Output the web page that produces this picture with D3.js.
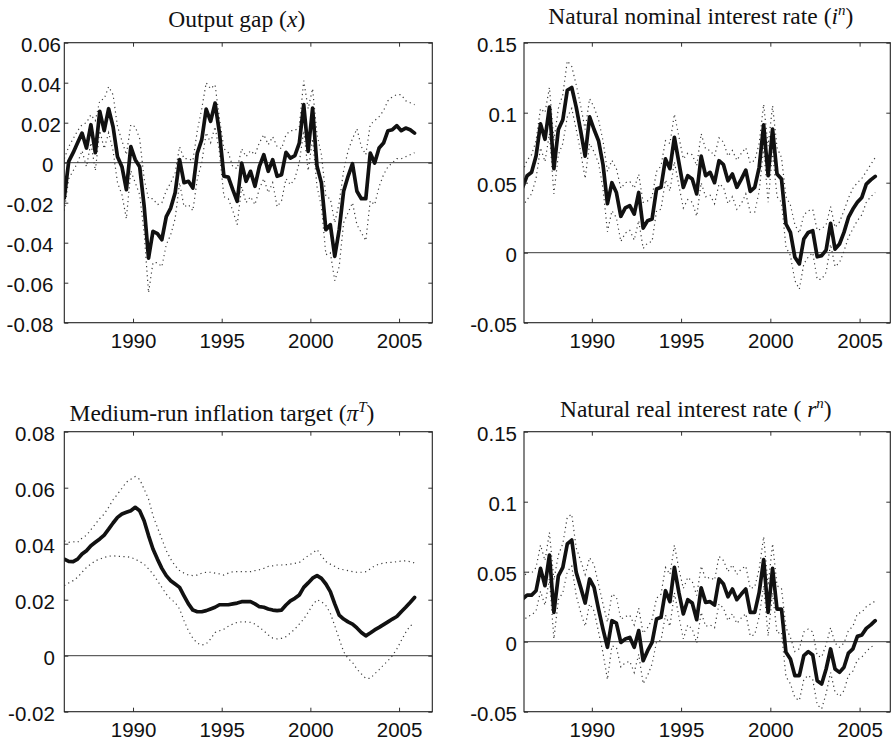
<!DOCTYPE html>
<html>
<head>
<meta charset="utf-8">
<script src="https://cdn.jsdelivr.net/npm/d3@7"></script>
<style>
  html, body { margin: 0; padding: 0; background: #fff; }
  svg { display: block; }
</style>
</head>
<body>
<svg id="fig" width="891" height="744"></svg>
<script>
// Quarterly observations, 1986 to 2005
const startYear = 1986.125;
const nObs = 80;
const xTicks = [1990, 1995, 2000, 2005];

// Output gap (x): estimate and dotted bands
const outputGap = [
  -0.0177, 0.0007, 0.005, 0.010, 0.0148, 0.0073, 0.019, 0.005, 0.0257, 0.016,
  0.027, 0.018, 0.003, -0.002, -0.0135, 0.008, 0.0015, -0.002, -0.0215, -0.0477,
  -0.0343, -0.0355, -0.0385, -0.027, -0.0227, -0.015, 0.0015, -0.010, -0.0093, -0.0127,
  0.0048, 0.0115, 0.0268, 0.0207, 0.0298, 0.0148, -0.0068, -0.0072, -0.0135, -0.0193,
  -0.0002, -0.0093, -0.0043, -0.0118, -0.0018, 0.004, -0.0043, 0.0015, -0.0068, -0.006,
  0.0052, 0.0023, 0.0035, 0.0098, 0.029, 0.0057, 0.0273, -0.0018, -0.0102, -0.0335,
  -0.031, -0.0468, -0.0335, -0.0143, -0.0068, -0.0005, -0.0143, -0.018, -0.018, 0.0048,
  -0.0002, 0.0073, 0.0098, 0.016, 0.0165, 0.0185, 0.016, 0.0173, 0.0165, 0.0148
];
const outputGapUpper = [
  0.002, 0.008, 0.012, 0.016, 0.019, 0.020, 0.024, 0.021, 0.031, 0.032,
  0.038, 0.034, 0.018, 0.011, 0.004, 0.019, 0.018, 0.012, -0.008, -0.018,
  -0.018, -0.021, -0.020, -0.014, -0.010, -0.005, 0.008, 0.002, 0.002, 0.001,
  0.016, 0.027, 0.040, 0.037, 0.039, 0.022, 0.007, 0.005, -0.002, -0.003,
  0.007, 0.003, 0.006, 0.004, 0.010, 0.014, 0.009, 0.013, 0.008, 0.007,
  0.014, 0.016, 0.016, 0.018, 0.041, 0.027, 0.037, 0.014, 0.004, -0.017,
  -0.018, -0.030, -0.020, -0.004, 0.006, 0.012, 0.017, 0.008, 0.004, 0.019,
  0.021, 0.023, 0.026, 0.031, 0.033, 0.034, 0.034, 0.031, 0.030, 0.029
];
const outputGapLower = [
  -0.024, -0.008, -0.004, 0.000, 0.006, -0.002, 0.010, -0.004, 0.016, 0.007,
  0.015, 0.006, -0.010, -0.016, -0.028, -0.004, -0.010, -0.016, -0.035, -0.065,
  -0.050, -0.050, -0.052, -0.041, -0.036, -0.028, -0.010, -0.022, -0.021, -0.024,
  -0.008, 0.000, 0.015, 0.010, 0.018, 0.005, -0.017, -0.018, -0.024, -0.031,
  -0.012, -0.020, -0.017, -0.021, -0.013, -0.008, -0.015, -0.010, -0.022, -0.019,
  -0.008, -0.011, -0.008, 0.000, 0.016, -0.004, 0.012, -0.012, -0.022, -0.046,
  -0.045, -0.059, -0.052, -0.030, -0.025, -0.020, -0.031, -0.035, -0.039, -0.019,
  -0.021, -0.012, -0.006, -0.002, 0.000, 0.002, 0.002, 0.003, 0.004, 0.005
];

// Natural nominal interest rate (i^n)
const nominalRate = [
  0.0467, 0.055, 0.0574, 0.069, 0.092, 0.081, 0.104, 0.060, 0.088, 0.095,
  0.116, 0.118, 0.104, 0.087, 0.069, 0.097, 0.088, 0.080, 0.063, 0.035,
  0.050, 0.043, 0.026, 0.032, 0.0336, 0.0276, 0.043, 0.0176, 0.0229, 0.024,
  0.0455, 0.0467, 0.067, 0.060, 0.0824, 0.0645, 0.0467, 0.055, 0.0526, 0.042,
  0.069, 0.055, 0.0574, 0.050, 0.0657, 0.0629, 0.0514, 0.0562, 0.0467, 0.0526,
  0.059, 0.0438, 0.0467, 0.061, 0.0914, 0.055, 0.0883, 0.0562, 0.0526, 0.0205,
  0.0145, -0.0033, -0.008, 0.0098, 0.0145, 0.0157, -0.0029, -0.0021, 0.0019, 0.021,
  0.0026, 0.0062, 0.0145, 0.0252, 0.0312, 0.036, 0.0395, 0.049, 0.052, 0.0545
];
const nominalUpper = [
  0.058, 0.066, 0.070, 0.080, 0.103, 0.100, 0.118, 0.080, 0.103, 0.113,
  0.137, 0.133, 0.120, 0.105, 0.088, 0.110, 0.104, 0.095, 0.080, 0.058,
  0.066, 0.060, 0.046, 0.050, 0.051, 0.046, 0.056, 0.036, 0.037, 0.040,
  0.058, 0.062, 0.080, 0.078, 0.099, 0.083, 0.067, 0.071, 0.070, 0.062,
  0.085, 0.074, 0.073, 0.069, 0.082, 0.079, 0.069, 0.073, 0.066, 0.071,
  0.075, 0.064, 0.066, 0.078, 0.106, 0.076, 0.105, 0.075, 0.068, 0.040,
  0.034, 0.020, 0.014, 0.027, 0.030, 0.031, 0.016, 0.017, 0.020, 0.033,
  0.018, 0.022, 0.030, 0.039, 0.046, 0.050, 0.053, 0.058, 0.063, 0.068
];
const nominalLower = [
  0.033, 0.038, 0.042, 0.053, 0.075, 0.065, 0.085, 0.042, 0.070, 0.078,
  0.097, 0.103, 0.088, 0.072, 0.053, 0.078, 0.072, 0.064, 0.046, 0.015,
  0.030, 0.025, 0.008, 0.014, 0.016, 0.009, 0.023, 0.003, 0.007, 0.008,
  0.030, 0.031, 0.052, 0.044, 0.065, 0.048, 0.032, 0.038, 0.036, 0.026,
  0.050, 0.040, 0.041, 0.035, 0.049, 0.047, 0.035, 0.040, 0.031, 0.035,
  0.042, 0.029, 0.029, 0.044, 0.075, 0.036, 0.072, 0.040, 0.036, 0.004,
  -0.002, -0.020, -0.026, -0.008, -0.003, 0.000, -0.019, -0.019, -0.014, 0.006,
  -0.010, -0.007, 0.001, 0.011, 0.017, 0.023, 0.027, 0.036, 0.040, 0.043
];

// Medium-run inflation target (pi^T)
const inflationTarget = [
  0.0345, 0.0337, 0.0336, 0.0345, 0.0363, 0.0375, 0.0393, 0.0405, 0.0417, 0.0431,
  0.0452, 0.0474, 0.0494, 0.0506, 0.0512, 0.0518, 0.053, 0.0518, 0.0482, 0.0429,
  0.0381, 0.0345, 0.0312, 0.0286, 0.0268, 0.0256, 0.0244, 0.0214, 0.0185, 0.0163,
  0.0157, 0.0157, 0.0161, 0.0167, 0.0173, 0.0182, 0.0182, 0.0182, 0.0185, 0.0188,
  0.0193, 0.0193, 0.0193, 0.0185, 0.0175, 0.0173, 0.0167, 0.0163, 0.0161, 0.0163,
  0.0181, 0.0196, 0.0205, 0.0217, 0.0244, 0.026, 0.0277, 0.0286, 0.0276, 0.0256,
  0.0229, 0.0185, 0.0145, 0.0131, 0.0121, 0.0113, 0.0099, 0.0083, 0.0071, 0.0081,
  0.0092, 0.0101, 0.0111, 0.0121, 0.0131, 0.014, 0.0157, 0.0173, 0.019, 0.0208
];
const inflationUpper = [
  0.041, 0.0405, 0.0407, 0.0405, 0.042, 0.043, 0.045, 0.047, 0.049, 0.0506,
  0.053, 0.0557, 0.0577, 0.0598, 0.062, 0.063, 0.064, 0.063, 0.0595, 0.056,
  0.050, 0.0458, 0.0417, 0.0375, 0.0345, 0.0321, 0.0304, 0.0295, 0.0288, 0.0286,
  0.0288, 0.0295, 0.0298, 0.0298, 0.0295, 0.0292, 0.0288, 0.0295, 0.030, 0.030,
  0.030, 0.030, 0.030, 0.0304, 0.0307, 0.0312, 0.0319, 0.0321, 0.0324, 0.0324,
  0.0325, 0.0327, 0.033, 0.0333, 0.0345, 0.0357, 0.0367, 0.0379, 0.0357, 0.0336,
  0.0327, 0.0319, 0.031, 0.0307, 0.0304, 0.030, 0.0298, 0.0298, 0.030, 0.031,
  0.0321, 0.0327, 0.0331, 0.0333, 0.0333, 0.0336, 0.0338, 0.0339, 0.0336, 0.0331
];
const inflationLower = [
  0.025, 0.026, 0.0268, 0.028, 0.0298, 0.0315, 0.0327, 0.0339, 0.0345, 0.0351,
  0.0355, 0.0357, 0.0355, 0.0354, 0.0354, 0.0351, 0.0345, 0.0336, 0.0327, 0.031,
  0.0292, 0.0268, 0.0244, 0.022, 0.0202, 0.019, 0.0167, 0.0125, 0.0089, 0.0062,
  0.0045, 0.0038, 0.0042, 0.006, 0.0083, 0.0089, 0.0095, 0.0105, 0.0113, 0.0119,
  0.0121, 0.0121, 0.0119, 0.0113, 0.0101, 0.0089, 0.0074, 0.0063, 0.006, 0.0062,
  0.0068, 0.0081, 0.0095, 0.0113, 0.0131, 0.0155, 0.0181, 0.020, 0.0193, 0.0179,
  0.0152, 0.0107, 0.006, 0.0014, -0.001, -0.0024, -0.0048, -0.0065, -0.0081, -0.0081,
  -0.0065, -0.005, -0.0033, -0.0018, 0.0, 0.0024, 0.0054, 0.0083, 0.0107, 0.0113
];

// Natural real interest rate (r^n)
const realRate = [
  0.0305, 0.0333, 0.0333, 0.0364, 0.0524, 0.040, 0.0619, 0.021, 0.0471, 0.0531,
  0.0698, 0.0726, 0.0495, 0.0388, 0.0276, 0.0448, 0.0388, 0.0233, 0.009, -0.004,
  0.015, 0.0133, -0.0005, 0.0019, 0.0031, -0.004, 0.0079, -0.0136, -0.0064, -0.0005,
  0.0162, 0.0174, 0.0364, 0.0286, 0.0531, 0.0352, 0.0198, 0.030, 0.0276, 0.0157,
  0.0385, 0.0281, 0.0286, 0.0262, 0.0448, 0.0412, 0.0321, 0.0376, 0.030, 0.034,
  0.0376, 0.021, 0.021, 0.0352, 0.0586, 0.021, 0.0524, 0.0233, 0.0233, -0.0076,
  -0.0124, -0.0243, -0.0243, -0.010, -0.0071, -0.0095, -0.0279, -0.0302, -0.0195, -0.0052,
  -0.0195, -0.0219, -0.0183, -0.0081, -0.0052, 0.0038, 0.0048, 0.0095, 0.012, 0.015
];
const realUpper = [
  0.045, 0.050, 0.049, 0.053, 0.069, 0.058, 0.078, 0.044, 0.062, 0.070,
  0.089, 0.091, 0.067, 0.058, 0.048, 0.060, 0.055, 0.041, 0.027, 0.014,
  0.034, 0.032, 0.016, 0.018, 0.019, 0.012, 0.024, 0.006, 0.010, 0.016,
  0.031, 0.034, 0.053, 0.048, 0.069, 0.052, 0.038, 0.046, 0.043, 0.033,
  0.054, 0.045, 0.046, 0.044, 0.061, 0.058, 0.050, 0.055, 0.048, 0.052,
  0.054, 0.038, 0.039, 0.052, 0.075, 0.040, 0.070, 0.040, 0.038, 0.010,
  0.003, -0.007, -0.005, 0.007, 0.009, 0.007, -0.010, -0.011, -0.002, 0.010,
  -0.001, -0.004, -0.001, 0.008, 0.011, 0.020, 0.021, 0.025, 0.027, 0.029
];
const realLower = [
  0.014, 0.018, 0.019, 0.022, 0.036, 0.026, 0.045, 0.002, 0.030, 0.035,
  0.050, 0.054, 0.033, 0.021, 0.011, 0.027, 0.022, 0.007, -0.008, -0.027,
  -0.003, -0.004, -0.018, -0.015, -0.014, -0.022, -0.009, -0.030, -0.024, -0.016,
  0.000, 0.001, 0.019, 0.011, 0.035, 0.018, 0.002, 0.012, 0.009, -0.001,
  0.021, 0.011, 0.012, 0.010, 0.027, 0.024, 0.015, 0.020, 0.013, 0.017,
  0.020, 0.004, 0.005, 0.018, 0.040, 0.004, 0.035, 0.006, 0.007, -0.025,
  -0.030, -0.040, -0.042, -0.027, -0.024, -0.027, -0.045, -0.048, -0.037, -0.022,
  -0.036, -0.039, -0.035, -0.024, -0.021, -0.013, -0.011, -0.007, -0.004, -0.002
];

// Y-axis tick values
const ticksGap = [-0.08, -0.06, -0.04, -0.02, 0, 0.02, 0.04, 0.06];
const ticksRate = [-0.05, 0, 0.05, 0.1, 0.15];
const ticksTarget = [-0.02, 0, 0.02, 0.04, 0.06, 0.08];

const dates = d3.range(nObs).map(i => startYear + i * 0.25);

const panels = [
  {
    title: [{ t: "Output gap (" }, { t: "x", it: true }, { t: ")" }],
    titleX: 236.7, titleY: 27,
    mid: outputGap, upper: outputGapUpper, lower: outputGapLower,
    yTicks: ticksGap, yDomain: [-0.08, 0.06],
    box: { left: 64.3, right: 432.3, top: 42.7, bottom: 322.7 },
    xDomain: [1986.125, 2006.875], pad: 11, posShift: 7.7
  },
  {
    title: [{ t: "Natural nominal interest rate (" }, { t: "i", it: true }, { t: "n", it: true, sup: true }, { t: ")" }],
    titleX: 700.8, titleY: 23.5,
    mid: nominalRate, upper: nominalUpper, lower: nominalLower,
    yTicks: ticksRate, yDomain: [-0.05, 0.15],
    box: { left: 524, right: 890.3, top: 42.7, bottom: 322.7 },
    xDomain: [1986.2, 2006.72], pad: 7, posShift: 0
  },
  {
    title: [{ t: "Medium-run inflation target (" }, { t: "π", it: true }, { t: "T", it: true, sup: true }, { t: ")" }],
    titleX: 222, titleY: 421,
    mid: inflationTarget, upper: inflationUpper, lower: inflationLower,
    yTicks: ticksTarget, yDomain: [-0.02, 0.08],
    box: { left: 64.3, right: 432.3, top: 431.7, bottom: 711.7 },
    xDomain: [1986.125, 2006.875], pad: 9.5, posShift: 0
  },
  {
    title: [{ t: "Natural real interest rate ( " }, { t: "r", it: true }, { t: "n", it: true, sup: true }, { t: ")" }],
    titleX: 695.8, titleY: 416.5,
    mid: realRate, upper: realUpper, lower: realLower,
    yTicks: ticksRate, yDomain: [-0.05, 0.15],
    box: { left: 524, right: 890.3, top: 431.7, bottom: 711.7 },
    xDomain: [1986.2, 2006.72], pad: 7, posShift: 0
  }
];

const svg = d3.select("#fig");
const fmt = d => String(+d.toFixed(2));
const defs = svg.append("defs");

panels.forEach((p, k) => {
  const b = p.box;
  const x = d3.scaleLinear().domain(p.xDomain).range([b.left, b.right]);
  const y = d3.scaleLinear().domain(p.yDomain).range([b.bottom, b.top]);
  const g = svg.append("g");

  defs.append("clipPath").attr("id", "clip" + k)
    .append("rect")
    .attr("x", b.left).attr("y", b.top)
    .attr("width", b.right - b.left).attr("height", b.bottom - b.top);

  const plot = g.append("g").attr("clip-path", `url(#clip${k})`);

  // zero reference line
  plot.append("line")
    .attr("x1", b.left).attr("x2", b.right)
    .attr("y1", y(0)).attr("y2", y(0))
    .attr("stroke", "#3a3a3a").attr("stroke-width", 1);

  const line = d3.line().x((d, i) => x(dates[i])).y(d => y(d));

  // dotted bands
  [p.upper, p.lower].forEach(s => {
    plot.append("path").datum(s)
      .attr("d", line)
      .attr("fill", "none")
      .attr("stroke", "#3c3c3c")
      .attr("stroke-width", 1.2)
      .attr("stroke-dasharray", "1.2,3.4");
  });

  // main estimate
  plot.append("path").datum(p.mid)
    .attr("d", line)
    .attr("fill", "none")
    .attr("stroke", "#111")
    .attr("stroke-width", 3.7)
    .attr("stroke-linejoin", "round")
    .attr("stroke-linecap", "round");

  // axes with inward ticks on all four sides
  const tick = 4;
  const ax = g.append("g").attr("font-family", "'Liberation Sans', Arial, sans-serif");

  const left = ax.append("g").attr("transform", `translate(${b.left},0)`)
    .call(d3.axisLeft(y).tickValues(p.yTicks).tickSize(-tick).tickPadding(p.pad).tickFormat(fmt));
  left.selectAll("text").attr("dy", "0.42em")
    .attr("x", d => -(p.pad) + (d > 0 ? p.posShift : 0));

  ax.append("g").attr("transform", `translate(0,${b.bottom})`)
    .call(d3.axisBottom(x).tickValues(xTicks).tickSize(-tick).tickPadding(11).tickFormat(d3.format("d")));

  ax.append("g").attr("transform", `translate(${b.right},0)`)
    .call(d3.axisRight(y).tickValues(p.yTicks).tickSize(-tick).tickFormat(""));
  ax.append("g").attr("transform", `translate(0,${b.top})`)
    .call(d3.axisTop(x).tickValues(xTicks).tickSize(-tick).tickFormat(""));

  ax.selectAll(".domain").remove();
  ax.selectAll(".tick line").attr("stroke", "#333").attr("stroke-width", 1);
  ax.selectAll(".tick text").attr("fill", "#111").attr("font-size", 20.5);

  // frame
  g.append("rect")
    .attr("x", b.left).attr("y", b.top)
    .attr("width", b.right - b.left).attr("height", b.bottom - b.top)
    .attr("fill", "none").attr("stroke", "#222").attr("stroke-width", 1.1);

  // title
  const title = g.append("text")
    .attr("x", p.titleX).attr("y", p.titleY)
    .attr("text-anchor", "middle")
    .attr("font-family", "'Liberation Serif', 'Times New Roman', serif")
    .attr("font-size", 23.5)
    .attr("fill", "#111");
  let raised = false;
  p.title.forEach(part => {
    const ts = title.append("tspan").text(part.t);
    if (part.it) ts.attr("font-style", "italic");
    if (part.sup) {
      ts.attr("font-size", 15).attr("dy", -9);
      raised = true;
    } else if (raised) {
      ts.attr("dy", 9);
      raised = false;
    }
  });
});
</script>
</body>
</html>
